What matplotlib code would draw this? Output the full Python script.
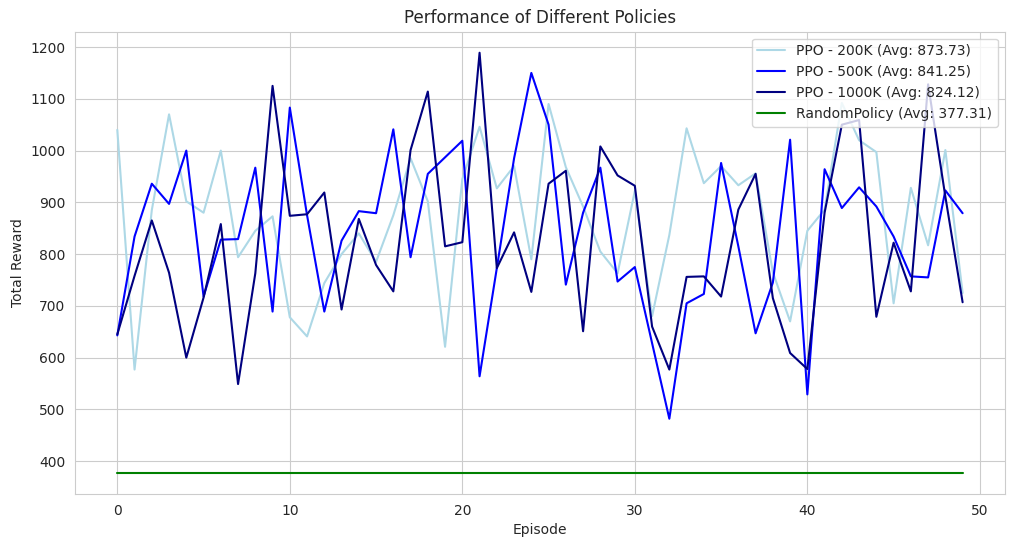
import numpy as np
import matplotlib
matplotlib.use("Agg")
import matplotlib.pyplot as plt
import seaborn as sns

# --- Daten ---
episodes = np.arange(50)

ppo_200k = [1040, 577, 885, 1070, 902, 880, 1000, 794, 845, 873,
            678, 641, 744, 800, 840, 785, 875, 985, 902, 621,
            945, 1046, 927, 970, 790, 1090, 968, 892, 805, 763,
            922, 680, 837, 1043, 937, 970, 933, 956, 765, 670,
            845, 886, 1092, 1020, 997, 705, 928, 817, 1001, 725]

ppo_500k = [643, 834, 936, 897, 1000, 718, 828, 829, 967, 689,
            1083, 875, 689, 826, 883, 879, 1041, 794, 955, 987,
            1019, 564, 773, 985, 1150, 1050, 741, 880, 967, 747,
            775, 628, 482, 705, 723, 976, 815, 647, 745, 1021,
            529, 964, 889, 929, 892, 834, 757, 755, 923, 879]

ppo_1000k = [645, 758, 865, 764, 600, 716, 858, 549, 763, 1125,
             874, 877, 919, 693, 868, 779, 728, 1001, 1114, 815,
             823, 1189, 773, 842, 727, 936, 961, 651, 1008, 952,
             932, 660, 577, 756, 757, 718, 886, 955, 715, 609,
             578, 880, 1050, 1059, 679, 822, 728, 1128, 911, 707]

random_avg = 377.31

labels = ["PPO - 200K (Avg: 873.73)",
          "PPO - 500K (Avg: 841.25)",
          "PPO - 1000K (Avg: 824.12)",
          "RandomPolicy (Avg: 377.31)"]

# --- Plot ---
sns.set_style("whitegrid")
plt.rcParams['font.family'] = ['DejaVu Sans']

fig, ax = plt.subplots(figsize=(10.14, 5.47), dpi=100)
fig.subplots_adjust(left=0.074, right=0.991, top=0.942, bottom=0.097)

ax.plot(episodes, ppo_200k, color='lightblue', label=labels[0])
ax.plot(episodes, ppo_500k, color='blue', label=labels[1])
ax.plot(episodes, ppo_1000k, color='navy', label=labels[2])
ax.plot(episodes, np.full(len(episodes), random_avg), color='green', label=labels[3])

ax.set_title("Performance of Different Policies")
ax.set_xlabel("Episode")
ax.set_ylabel("Total Reward")
ax.legend(loc='upper right')

fig.savefig("out.png", dpi=100)
